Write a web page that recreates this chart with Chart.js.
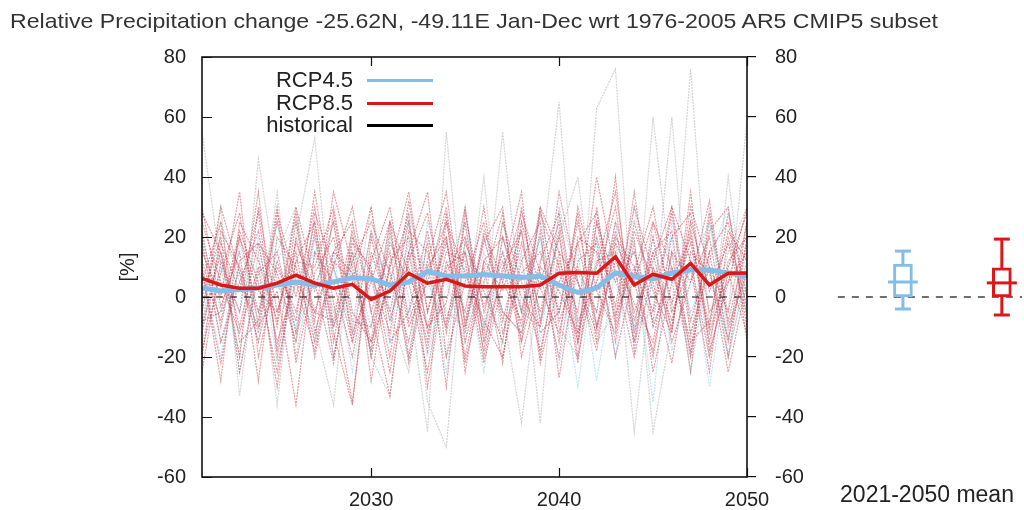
<!DOCTYPE html>
<html>
<head>
<meta charset="utf-8">
<script src="https://cdn.jsdelivr.net/npm/chart.js@4.4.1/dist/chart.umd.min.js"></script>
<style>
  html, body { margin: 0; padding: 0; background: #fff; }
  #wrap { position: relative; width: 1024px; height: 510px; overflow: hidden;
          font-family: "Liberation Sans", Arial, sans-serif; color: #222; }
  #main { position: absolute; left: 0; top: 0; }
  #box { position: absolute; left: 780px; top: 0; }
  #title { position: absolute; left: 10px; top: 9px; font-size: 21px; color: #333; white-space: nowrap;
           transform: scaleX(1.1); transform-origin: 0 0; }
  .lab { position: absolute; right: 671px; font-size: 22px; line-height: 24px; white-space: nowrap; }
  .sw { position: absolute; left: 367px; width: 66px; height: 3px; }
</style>
</head>
<body>
<div id="wrap">
  <canvas id="main" width="1024" height="510"></canvas>
  <canvas id="box" width="260" height="510"></canvas>
  <div id="title">Relative Precipitation change -25.62N, -49.11E Jan-Dec wrt 1976-2005 AR5 CMIP5 subset</div>
  <div id="legend"></div>
</div>
<script>
// years on the x axis
var years = [2021, 2022, 2023, 2024, 2025, 2026, 2027, 2028, 2029, 2030,
             2031, 2032, 2033, 2034, 2035, 2036, 2037, 2038, 2039, 2040,
             2041, 2042, 2043, 2044, 2045, 2046, 2047, 2048, 2049, 2050];
var xTicks = [2030, 2040, 2050];

// ensemble means (%)
var rcp85Mean = [6.2, 4.0, 2.9, 2.9, 4.6, 7.3, 4.6, 2.9, 4.2, -0.8,
                 2.0, 7.9, 4.6, 5.9, 3.7, 3.4, 3.4, 3.4, 4.0, 7.9,
                 8.2, 7.9, 13.4, 4.0, 7.6, 5.9, 11.2, 4.0, 7.9, 8.0];
var rcp45Mean = [3.0, 2.0, 2.5, 3.0, 4.0, 5.0, 4.0, 5.0, 6.5, 6.0,
                 4.0, 5.0, 8.5, 7.0, 7.0, 7.5, 7.0, 6.5, 7.0, 4.0,
                 1.5, 3.0, 8.0, 7.0, 6.0, 8.0, 9.0, 9.0, 8.0, 7.0];

// individual RCP8.5 members
var rcp85Members = [
  [12, -8, 20, -5, 25, 0, 30, -10, 15, -20, 10, 35, -5, 18, -12, 22, 5, -8, 28, 10, -15, 20, -3, 30, 8, -10, 25, 2, 18, -6],
  [-10, 15, -20, 30, -5, 18, 2, 25, -15, 8, -25, 12, 28, -8, 15, -18, 20, 0, -10, 35, 5, -12, 22, -5, 12, 30, -8, 15, -20, 20],
  [25, 5, -12, 10, -30, 20, -5, 15, 8, -18, 22, -10, 5, 30, -15, 10, -22, 25, 3, -12, 18, 28, -6, 10, -20, 15, 5, 32, -10, 8],
  [-5, 30, 8, -15, 12, -8, 35, -2, -35, 15, -5, 25, -12, 8, 20, -3, 12, -15, 30, -8, 10, -5, 40, -18, 25, -2, 18, -12, 10, 28],
  [18, -15, 5, 22, -10, 28, -12, 10, 30, -5, -33, 15, 35, -20, 5, 25, -8, 18, -5, 20, -15, 30, -10, 22, 5, -22, 15, 8, -14, 12],
  [0, 20, -25, 8, 15, -12, 22, -20, 12, 25, 8, -15, 18, -30, 28, -5, 15, -10, 22, -27, 12, 18, -20, 8, 30, -5, 10, -25, 20, -3],
  [30, -3, 15, -28, 20, 10, -15, 28, -8, -10, 18, 5, -25, 12, -5, 30, -12, 8, 15, -5, 25, -10, 12, -2, -15, 20, 28, -5, 5, 15],
  [-18, 8, 28, -10, 2, -36, 15, 5, -20, 12, 30, -8, 10, 20, -22, 5, 28, -15, 10, 2, -12, 25, -8, 35, -10, 10, -18, 22, 30, -15],
  [8, -22, 12, 18, -15, 5, -5, -8, 22, -28, 12, 20, -10, -2, 30, -15, 8, 35, -20, 15, 5, -18, 20, 10, -8, 28, -12, 10, -5, 25],
  [-25, 12, -5, 35, -20, 12, 25, -12, -36, 20, -8, 15, -18, 25, 8, -8, -20, 12, 25, -15, 30, 2, -12, 18, -25, 5, 20, -10, 28, 0],
  [22, -10, 20, 2, -5, 15, -20, 12, 5, 30, -15, -5, 22, -12, 18, 2, -15, 30, -8, 22, -20, 12, 15, -15, 20, -12, 35, -18, 5, 30],
  [5, 25, -15, -8, 30, -22, 8, 20, -12, 5, 25, -20, 12, 35, -10, 20, -5, -12, 12, 28, -8, 5, 30, -12, 15, 22, -20, 15, 25, -10],
  [-12, 18, 2, 28, -18, 25, -8, 35, 10, -15, 5, 28, -30, 10, 15, -12, 25, 5, -18, 12, -5, 40, 8, -20, 10, -8, 22, -15, 12, 20],
  [15, 0, 35, -20, 10, -5, 25, -15, 20, 8, -12, 32, -5, 20, -20, 12, 2, 22, -22, 5, 18, -10, 25, 5, -18, 15, -25, 28, -8, 18],
  [-20, 22, 10, -12, 28, 5, -18, 15, 25, -5, 15, -22, 8, 25, -8, 18, 30, -20, 5, 25, -12, 10, 35, -8, 15, -15, 5, 20, -15, 25],
  [10, -28, 25, 12, -8, 30, 5, -22, 18, 10, -20, 22, 15, -10, 25, -20, 10, 22, -12, -5, 28, -15, 18, 5, 25, 10, -15, -8, 22, 12],
  [28, 15, -10, 18, 8, -15, 28, 10, -15, 22, 2, 10, -15, 28, -25, 12, 20, -5, 30, 15, -22, 25, 5, 15, -5, 30, 12, -20, 8, -12],
  [-8, -5, 22, 5, -25, 12, 10, 30, -5, -15, 25, 8, -10, 15, 12, -22, 5, 28, 8, -20, 20, 15, -15, 25, 2, -12, 30, 10, -25, 5]
];

// individual RCP4.5 members
var rcp45Members = [
  [-15, 10, -5, 20, -22, 5, 15, -10, 8, -18, 20, -5, 12, -25, 15, 5, -15, 25, -8, 10, -30, 15, 5, -10, 20, -18, 10, 25, -12, 15],
  [10, -20, 18, -8, 12, 25, -15, 10, -12, 22, -8, 18, -20, 10, 25, -10, 15, -5, 20, -22, 8, -5, 25, -15, 5, 20, -25, 12, 30, -5],
  [-8, 15, -25, 10, 5, -10, 20, -20, 15, 5, -15, 28, 5, -10, 10, -25, 20, 12, -15, 28, -10, 20, -20, 30, -10, 8, 15, -30, 10, 20],
  [20, -5, 8, -15, 25, -12, 5, 15, -25, 12, 10, -20, 25, 5, -15, 20, -5, -12, 28, -5, 15, -28, 10, 15, -35, 25, -5, 10, -20, 8]
];

// members drawn in grey (outliers)
var greyMembers = [
  [55, 10, -20, 46, 5, -15, 20, -5, 12, -10, 25, 0, -45, 55, -10, 15, -5, -42, 10, 65, -15, 5, 20, -45, 10, -5, 76, -10, 15, 30],
  [-10, 30, -33, 15, -36, 20, 53, -10, 15, -20, 10, 25, -35, -50, 20, -10, 55, -5, 20, -10, -20, 63, 76, -15, 60, 5, -20, 25, -5, 59],
  [20, -15, 10, -5, 15, 30, -10, -36, 25, -20, -33, 15, 10, -20, 30, -15, 25, -5, -10, 20, 40, -10, 15, -10, -5, 60, -15, 30, -20, 10],
  [-5, 25, 5, -10, 35, -20, 15, 25, -10, 30, -5, -25, 20, -5, -10, 40, -20, 15, -42, 30, 5, -15, -5, 20, -45, -10, 25, -20, 40, -8]
];

// 2021-2050 mean box plots
var boxNames = ["RCP4.5", "RCP8.5"];
var boxPos = [1, 2.52];
var boxMin = [-4, -6];
var boxQ1 = [0, 0];
var boxMed = [5, 4.7];
var boxQ3 = [11, 9.7];
var boxMax = [15.3, 19.3];

var BLUE = "rgb(132, 189, 232)";
var RED = "rgb(218, 24, 24)";
var BLACK = "#111";
var FONT = "'Liberation Sans', Arial, sans-serif";

function pts(vals) {
  return vals.map(function (v, i) { return { x: years[i], y: v }; });
}

function member(vals, color) {
  return {
    type: "line", data: pts(vals), borderColor: color, borderWidth: 1.2,
    borderDash: [2, 1], pointRadius: 0, tension: 0
  };
}

// legend, gnuplot style (text left of the sample)
(function () {
  var items = [["RCP4.5", BLUE, 80], ["RCP8.5", RED, 103], ["historical", "#000", 125]];
  var lg = document.getElementById("legend");
  items.forEach(function (it) {
    var l = document.createElement("div");
    l.className = "lab"; l.textContent = it[0]; l.style.top = (it[2] - 12) + "px";
    var s = document.createElement("div");
    s.className = "sw"; s.style.background = it[1]; s.style.top = (it[2] - 1.5) + "px";
    lg.appendChild(l); lg.appendChild(s);
  });
})();

// inward ticks + frame
var frameTicks = {
  id: "frameTicks",
  afterDatasetsDraw: function (chart) {
    var ctx = chart.ctx, a = chart.chartArea, sx = chart.scales.x, sy = chart.scales.y;
    ctx.save();
    ctx.strokeStyle = BLACK;
    ctx.lineWidth = 1.2;
    ctx.beginPath();
    sx.ticks.forEach(function (t) {
      var px = Math.round(sx.getPixelForValue(t.value)) + 0.5;
      ctx.moveTo(px, a.bottom); ctx.lineTo(px, a.bottom - 9);
      ctx.moveTo(px, a.top); ctx.lineTo(px, a.top + 9);
    });
    sy.ticks.forEach(function (t) {
      var py = Math.round(sy.getPixelForValue(t.value)) + 0.5;
      ctx.moveTo(a.left, py); ctx.lineTo(a.left + 10, py);
    });
    ctx.stroke();
    ctx.lineWidth = 1.6;
    ctx.strokeRect(a.left, a.top, a.width, a.height);
    ctx.restore();
  }
};

var datasets = [
  { type: "line", data: pts(rcp85Mean), borderColor: RED, borderWidth: 3.5, pointRadius: 0, tension: 0 },
  { type: "line", data: pts(rcp45Mean), borderColor: BLUE, borderWidth: 5, pointRadius: 0, tension: 0 },
  { type: "line", data: [{ x: years[0], y: 0 }, { x: years[years.length - 1], y: 0 }],
    borderColor: BLACK, borderWidth: 1.2, borderDash: [7, 7], pointRadius: 0 }
];
rcp85Members.forEach(function (m) { datasets.push(member(m, "rgba(200, 60, 80, 0.5)")); });
rcp45Members.forEach(function (m) { datasets.push(member(m, "rgba(110, 200, 225, 0.45)")); });
greyMembers.forEach(function (m) { datasets.push(member(m, "rgba(145, 145, 145, 0.4)")); });

var tickFont = { family: FONT, size: 20 };

new Chart(document.getElementById("main"), {
  type: "line",
  data: { datasets: datasets },
  options: {
    responsive: false,
    animation: false,
    layout: { padding: { top: 57, left: 0, right: 0, bottom: 0 } },
    plugins: { legend: { display: false }, tooltip: { enabled: false } },
    scales: {
      x: {
        type: "linear", min: 2021, max: 2050,
        afterBuildTicks: function (s) { s.ticks = xTicks.map(function (v) { return { value: v }; }); },
        afterFit: function (s) { s.height = 33; },
        grid: { display: false }, border: { display: false },
        ticks: { color: "#222", font: tickFont, padding: 3, maxRotation: 0,
                 callback: function (v) { return String(v); } }
      },
      y: {
        position: "left", min: -60, max: 80,
        afterFit: function (s) { s.width = 202; },
        grid: { display: false }, border: { display: false },
        ticks: { stepSize: 20, color: "#222", font: tickFont, padding: 8 },
        title: { display: true, text: "[%]", color: "#222", font: tickFont, padding: { top: 116, bottom: 0 } }
      },
      y2: {
        position: "right", min: -60, max: 80,
        afterFit: function (s) { s.width = 1024 - 747; },
        grid: { drawOnChartArea: false, drawTicks: true, tickLength: 9, color: BLACK, lineWidth: 1.2 },
        border: { display: false },
        ticks: { stepSize: 20, color: "#222", font: tickFont, padding: 19 }
      }
    }
  },
  plugins: [frameTicks]
});

// box plot panel
function boxPts(vals) {
  return vals.map(function (v, i) { return { x: boxPos[i], y: v }; });
}
var boxColors = [BLUE, RED];
var boxSets = [
  { type: "line", label: "median", data: boxPts(boxMed), showLine: false, pointStyle: "line",
    pointRadius: 15, pointBorderWidth: 3, pointBorderColor: boxColors },
  { type: "bar", label: "box", data: boxQ1.map(function (q, i) { return { x: boxPos[i], y: [q, boxQ3[i]] }; }),
    backgroundColor: "#fff", borderColor: boxColors, borderWidth: 3, borderSkipped: false, barThickness: 19 }
];
boxNames.forEach(function (n, i) {
  boxSets.push({
    type: "line", label: n + " whisker",
    data: [{ x: boxPos[i], y: boxMin[i] }, { x: boxPos[i], y: boxMax[i] }],
    borderColor: boxColors[i], borderWidth: 3, pointStyle: "line", pointRadius: 8,
    pointBorderWidth: 3, pointBorderColor: boxColors[i]
  });
});
boxSets.push({ type: "line", label: "zero", data: [{ x: 0, y: 0 }, { x: 2.83, y: 0 }],
  borderColor: BLACK, borderWidth: 1.2, borderDash: [7, 7], pointRadius: 0 });

new Chart(document.getElementById("box"), {
  type: "bar",
  data: { datasets: boxSets },
  options: {
    responsive: false,
    animation: false,
    layout: { padding: { top: 57, left: 52, right: 2, bottom: 0 } },
    plugins: { legend: { display: false }, tooltip: { enabled: false } },
    scales: {
      x: {
        type: "linear", min: -0.09, max: 2.83, offset: false,
        afterFit: function (s) { s.height = 33; },
        grid: { display: false }, border: { display: false },
        ticks: { display: false },
        title: { display: true, text: "2021-2050 mean", color: "#222", font: { family: FONT, size: 23 },
                 padding: { top: 0, bottom: 1 } }
      },
      y: { display: false, min: -60, max: 80 }
    }
  }
});
</script>
</body>
</html>
